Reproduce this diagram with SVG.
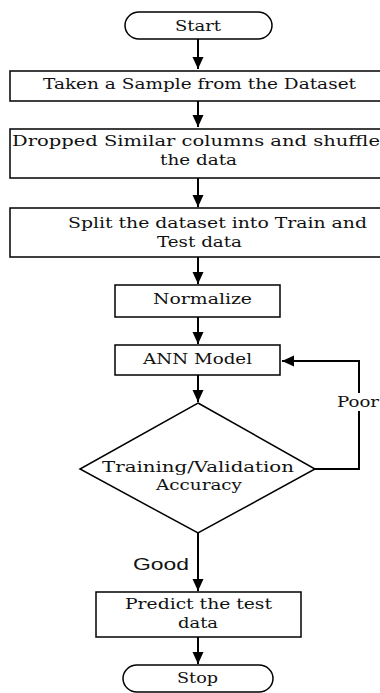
<svg xmlns="http://www.w3.org/2000/svg" width="380" height="693" viewBox="0 0 380 693">
<style>
.box{fill:#fff;stroke:#000;stroke-width:1.5}
.t{font-family:"DejaVu Serif","Liberation Serif",serif;font-size:15.5px;fill:#111;text-anchor:middle}
.lbl{font-family:"Liberation Sans",Arial,sans-serif;font-size:17px;fill:#111}
.c{fill:none;stroke:#000;stroke-width:2}
</style>
<defs>
<marker id="ah" markerUnits="userSpaceOnUse" markerWidth="12" markerHeight="12" refX="12" refY="6" orient="auto">
<path d="M0,0.5 L12,6 L0,11.5 Z" fill="#000"/>
</marker>
</defs>
<rect width="380" height="693" fill="#fff"/>
<g id="connectors">
<line class="c" x1="198" y1="39" x2="198" y2="69" marker-end="url(#ah)"/>
<line class="c" x1="198" y1="101" x2="198" y2="127" marker-end="url(#ah)"/>
<line class="c" x1="198" y1="178" x2="198" y2="207" marker-end="url(#ah)"/>
<line class="c" x1="198" y1="257" x2="198" y2="284" marker-end="url(#ah)"/>
<line class="c" x1="198" y1="317" x2="198" y2="344" marker-end="url(#ah)"/>
<line class="c" x1="198" y1="375" x2="198" y2="402" marker-end="url(#ah)"/>
<line class="c" x1="198" y1="533" x2="198" y2="591" marker-end="url(#ah)"/>
<line class="c" x1="198" y1="637" x2="198" y2="664" marker-end="url(#ah)"/>
<polyline class="c" points="315,469 359,469 359,361 282,361" marker-end="url(#ah)"/>
<rect x="336" y="393" width="44" height="18" fill="#fff"/>
<text class="t" x="358" y="407" textLength="42" lengthAdjust="spacingAndGlyphs">Poor</text>
<text class="lbl" x="133" y="570" textLength="56" lengthAdjust="spacingAndGlyphs">Good</text>
</g>
<g id="start">
<rect class="box" x="125" y="12" width="147" height="27" rx="14" ry="13.5"/>
<text class="t" x="198" y="31" textLength="46" lengthAdjust="spacingAndGlyphs">Start</text>
</g>
<g id="sample">
<rect class="box" x="10" y="71" width="380" height="30"/>
<text class="t" x="199.5" y="89" textLength="313" lengthAdjust="spacingAndGlyphs">Taken a Sample from the Dataset</text>
</g>
<g id="drop">
<rect class="box" x="10" y="129" width="380" height="49"/>
<text class="t" x="196" y="146" textLength="368" lengthAdjust="spacingAndGlyphs">Dropped Similar columns and shuffle</text>
<text class="t" x="198.5" y="165" textLength="77" lengthAdjust="spacingAndGlyphs">the data</text>
</g>
<g id="split">
<rect class="box" x="10" y="208" width="380" height="49"/>
<text class="t" x="217.5" y="228" textLength="299" lengthAdjust="spacingAndGlyphs">Split the dataset into Train and</text>
<text class="t" x="199.5" y="247" textLength="85" lengthAdjust="spacingAndGlyphs">Test data</text>
</g>
<g id="normalize">
<rect class="box" x="115" y="285" width="165" height="32"/>
<text class="t" x="202.5" y="304" textLength="99" lengthAdjust="spacingAndGlyphs">Normalize</text>
</g>
<g id="ann">
<rect class="box" x="115" y="345" width="165" height="30"/>
<text class="t" x="197.5" y="364" textLength="109" lengthAdjust="spacingAndGlyphs">ANN Model</text>
</g>
<g id="decision">
<polygon class="box" points="198,403 315,469 198,533 80,469"/>
<text class="t" x="198" y="472" textLength="192" lengthAdjust="spacingAndGlyphs">Training/Validation</text>
<text class="t" x="199" y="490" textLength="86" lengthAdjust="spacingAndGlyphs">Accuracy</text>
</g>
<g id="predict">
<rect class="box" x="96" y="592" width="205" height="45"/>
<text class="t" x="198.5" y="609" textLength="147" lengthAdjust="spacingAndGlyphs">Predict the test</text>
<text class="t" x="198" y="628" textLength="40" lengthAdjust="spacingAndGlyphs">data</text>
</g>
<g id="stop">
<rect class="box" x="123" y="665" width="150" height="27" rx="14" ry="13.5"/>
<text class="t" x="197.5" y="683" textLength="41" lengthAdjust="spacingAndGlyphs">Stop</text>
</g>
</svg>
